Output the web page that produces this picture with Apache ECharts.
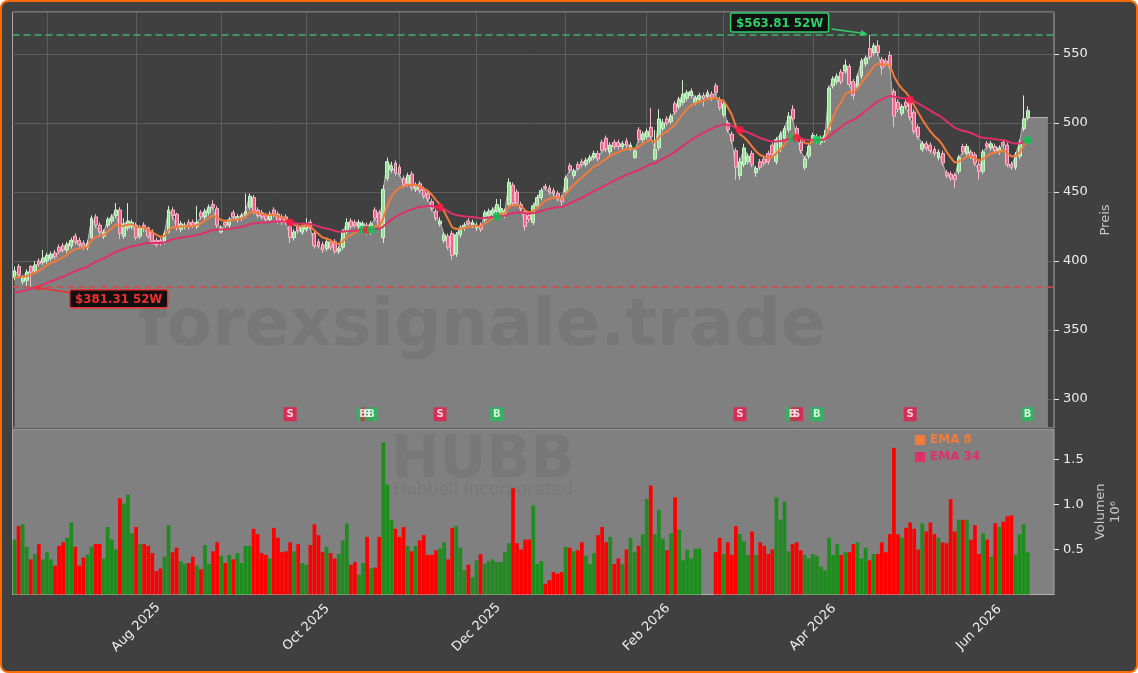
<!DOCTYPE html>
<html>
<head>
<meta charset="utf-8">
<script src="https://cdn.jsdelivr.net/npm/echarts@6/dist/echarts.min.js"></script>
<style>
  html, body { margin: 0; padding: 0; background: #ffffff; }
  #frame { position: absolute; left: 0; top: 0; width: 1138px; height: 673px; box-sizing: border-box;
           border: 2px solid #ff6a00; border-radius: 8px; background: #404040; }
  #chart { position: absolute; left: 0; top: 0; width: 1138px; height: 673px; }
</style>
</head>
<body>
<div id="frame"></div>
<div id="chart"></div>
<script>
const startDate = "2025-06-18";
const holidays = ["2025-06-19", "2025-07-04", "2025-09-01", "2025-11-27", "2025-12-25",
  "2026-01-01", "2026-01-19", "2026-02-16", "2026-04-03", "2026-05-25", "2026-06-19"];
const padSlots = 6; // leerer Rand rechts

const opens = [
  388, 396, 385, 386, 396, 393, 400, 399, 400, 402,
  406, 410, 411, 408, 411, 418, 415, 413, 410, 417,
  432, 426, 418, 426, 429, 433, 437, 418, 424, 425,
  426, 418, 426, 424, 421, 415, 415, 414, 421, 437,
  434, 423, 425, 428, 428, 425, 435, 432, 435, 441,
  438, 421, 428, 426, 435, 430, 431, 433, 439, 446,
  437, 435, 433, 430, 437, 434, 432, 432, 425, 417,
  425, 421, 423, 428, 420, 414, 412, 409, 414, 414,
  407, 410, 421, 429, 428, 425, 426, 426, 421, 437,
  435, 417, 460, 466, 471, 468, 460, 456, 463, 452,
  456, 452, 449, 443, 436, 427, 415, 418, 420, 405,
  419, 424, 429, 426, 424, 426, 430, 433, 434, 436,
  434, 433, 441, 455, 450, 441, 436, 433, 428, 440,
  446, 454, 453, 451, 449, 446, 450, 469, 462, 470,
  472, 470, 473, 475, 478, 486, 489, 479, 486, 486,
  483, 487, 482, 475, 495, 488, 490, 497, 474, 482,
  496, 503, 501, 514, 512, 515, 518, 520, 515, 517,
  520, 519, 521, 527, 517, 506, 500, 492, 480, 462,
  470, 472, 478, 464, 472, 474, 478, 484, 472, 481,
  489, 495, 510, 496, 486, 468, 476, 488, 487, 486,
  488, 495, 527, 530, 537, 538, 541, 530, 526, 534,
  543, 554, 551, 556, 546, 545, 549, 523, 515, 507,
  515, 516, 508, 497, 481, 485, 484, 481, 475, 478,
  464, 463, 462, 465, 483, 478, 479, 477, 470, 465,
  485, 482, 483, 479, 486, 484, 470, 468, 476, 496,
  504
];
const closes = [
  393, 390, 388, 392, 392, 397, 398, 402, 404, 405,
  403, 407, 408, 412, 415, 414, 412, 410, 413, 431,
  426, 421, 421, 430, 432, 437, 420, 427, 429, 428,
  417, 424, 424, 418, 414, 412, 413, 420, 437, 433,
  424, 427, 426, 425, 426, 428, 432, 436, 439, 439,
  426, 424, 426, 430, 432, 432, 433, 436, 447, 436,
  433, 432, 430, 434, 434, 429, 428, 428, 417, 421,
  422, 425, 427, 424, 411, 411, 408, 414, 410, 407,
  409, 421, 428, 425, 426, 428, 427, 421, 427, 431,
  425, 452, 472, 469, 464, 463, 455, 462, 453, 455,
  451, 447, 445, 438, 431, 429, 419, 410, 404, 419,
  424, 426, 427, 428, 426, 423, 435, 436, 437, 441,
  438, 436, 457, 442, 442, 438, 425, 430, 440, 446,
  451, 453, 450, 449, 445, 443, 460, 466, 465, 467,
  470, 473, 475, 478, 474, 480, 481, 484, 483, 483,
  485, 484, 484, 480, 488, 492, 494, 490, 481, 503,
  500, 500, 505, 508, 517, 521, 522, 523, 518, 520,
  518, 522, 518, 522, 511, 514, 495, 487, 468, 472,
  482, 476, 470, 467, 468, 471, 472, 477, 488, 492,
  496, 505, 503, 489, 480, 474, 483, 491, 490, 489,
  491, 525, 532, 534, 530, 542, 528, 520, 534, 545,
  547, 548, 556, 551, 540, 543, 541, 505, 510, 512,
  512, 504, 494, 490, 485, 482, 480, 478, 479, 471,
  462, 460, 459, 475, 479, 483, 476, 471, 465, 479,
  483, 485, 480, 482, 484, 470, 468, 477, 486, 503,
  509
];
const highs = [
  396, 398, 390, 394, 397, 400, 402, 408, 406, 407,
  408, 412, 413, 414, 417, 420, 417, 415, 415, 433,
  434, 428, 423, 432, 434, 442, 439, 431, 442, 430,
  428, 426, 428, 425, 423, 417, 417, 422, 440, 439,
  435, 429, 428, 430, 430, 440, 437, 438, 441, 444,
  440, 426, 430, 432, 437, 434, 435, 449, 449, 448,
  439, 437, 435, 436, 439, 436, 434, 434, 427, 423,
  427, 427, 431, 430, 422, 416, 414, 416, 416, 416,
  411, 423, 431, 431, 430, 430, 429, 428, 429, 439,
  437, 455, 475, 472, 473, 470, 462, 464, 465, 457,
  458, 454, 451, 445, 438, 432, 421, 420, 422, 421,
  426, 428, 431, 430, 428, 428, 437, 438, 439, 445,
  445, 438, 460, 457, 452, 443, 438, 435, 442, 448,
  453, 456, 455, 453, 451, 448, 462, 471, 467, 472,
  474, 475, 477, 480, 480, 488, 491, 486, 488, 488,
  487, 489, 486, 482, 497, 494, 496, 511, 495, 510,
  503, 505, 507, 516, 519, 531, 524, 525, 520, 522,
  522, 524, 523, 529, 519, 516, 502, 494, 482, 475,
  485, 478, 480, 469, 474, 476, 480, 486, 490, 494,
  498, 508, 513, 498, 488, 476, 485, 493, 492, 491,
  495, 527, 534, 536, 539, 546, 543, 532, 536, 547,
  549, 563.81, 558, 560, 548, 547, 552, 525, 517, 514,
  517, 518, 510, 499, 487, 487, 486, 483, 481, 480,
  466, 465, 464, 477, 485, 485, 481, 479, 472, 481,
  487, 487, 485, 484, 488, 486, 472, 479, 488, 520,
  512
];
const lows = [
  386, 388, 383, 382, 381.31, 392, 396, 397, 398, 400,
  401, 405, 406, 406, 409, 412, 410, 408, 408, 416,
  424, 419, 416, 424, 427, 431, 416, 416, 422, 423,
  415, 416, 421, 416, 412, 410, 411, 412, 420, 430,
  422, 421, 423, 423, 424, 423, 430, 430, 433, 437,
  424, 420, 424, 424, 430, 428, 429, 431, 437, 434,
  431, 430, 428, 428, 432, 427, 426, 426, 413, 415,
  420, 419, 421, 422, 409, 409, 406, 407, 408, 405,
  405, 408, 419, 423, 424, 423, 424, 419, 419, 429,
  423, 413, 458, 464, 462, 461, 453, 454, 451, 450,
  449, 445, 443, 436, 429, 425, 413, 408, 401, 403,
  417, 422, 425, 424, 422, 421, 428, 431, 432, 434,
  432, 431, 439, 440, 440, 436, 422, 428, 426, 438,
  444, 451, 448, 447, 443, 440, 448, 464, 460, 465,
  468, 468, 471, 473, 472, 478, 479, 477, 481, 481,
  481, 482, 480, 474, 486, 486, 488, 488, 473, 480,
  494, 498, 499, 506, 510, 513, 516, 518, 513, 515,
  512, 517, 516, 520, 509, 504, 493, 485, 459, 459,
  468, 470, 468, 461, 466, 469, 470, 475, 470, 479,
  487, 493, 501, 487, 478, 466, 474, 486, 485, 484,
  486, 493, 525, 528, 528, 536, 526, 517, 524, 532,
  541, 546, 549, 549, 535, 541, 539, 497, 508, 505,
  510, 502, 492, 488, 479, 480, 478, 476, 473, 469,
  460, 458, 453, 463, 477, 476, 474, 469, 459, 463,
  481, 480, 478, 477, 482, 468, 466, 466, 474, 494,
  502
];
// Volumen in Mio. Stueck (null = kein Wert)
const volumes = [
  0.61, 0.76, 0.78, 0.53, 0.39, 0.45, 0.56, 0.39, 0.47, 0.39,
  0.32, 0.54, 0.58, 0.63, 0.80, 0.53, 0.32, 0.41, 0.44, 0.53,
  0.56, 0.56, 0.40, 0.75, 0.61, 0.50, 1.07, 1.01, 1.11, 0.68,
  0.75, 0.56, 0.56, 0.54, 0.46, 0.26, 0.29, 0.42, 0.77, 0.47,
  0.52, 0.37, 0.34, 0.35, 0.42, 0.32, 0.28, 0.55, 0.34, 0.48,
  0.58, 0.43, 0.35, 0.44, 0.39, 0.46, 0.35, 0.54, 0.54, 0.73,
  0.67, 0.46, 0.44, 0.40, 0.74, 0.63, 0.47, 0.48, 0.58, 0.48,
  0.56, 0.35, 0.33, 0.55, 0.78, 0.66, 0.47, 0.53, 0.46, 0.40,
  0.45, 0.60, 0.79, 0.33, 0.36, 0.22, 0.35, 0.64, 0.29, 0.30,
  0.64, 1.69, 1.22, 0.83, 0.73, 0.64, 0.75, 0.54, 0.48, 0.54,
  0.60, 0.66, 0.44, 0.44, 0.49, 0.51, 0.58, 0.39, 0.74, 0.76,
  0.52, 0.27, 0.33, 0.19, 0.38, 0.45, 0.34, 0.37, 0.39, 0.36,
  0.36, 0.47, 0.57, 1.18, 0.57, 0.50, 0.61, 0.61, 0.99, 0.34,
  0.37, 0.12, 0.16, 0.25, 0.23, 0.25, 0.53, 0.52, 0.48, 0.49,
  0.58, 0.43, 0.34, 0.46, 0.66, 0.75, 0.58, 0.64, 0.34, 0.40,
  0.34, 0.50, 0.63, 0.47, 0.54, 0.67, 1.06, 1.21, 0.67, 0.94,
  0.62, 0.49, 0.68, 1.08, 0.72, 0.38, 0.50, 0.40, 0.51, 0.51,
  null, null, null, 0.47, 0.63, 0.45, 0.58, 0.44, 0.76, 0.67,
  0.59, 0.44, 0.70, 0.44, 0.58, 0.54, 0.45, 0.50, 1.08, 0.83,
  1.03, 0.48, 0.56, 0.58, 0.49, 0.44, 0.40, 0.45, 0.43, 0.31,
  0.27, 0.63, 0.44, 0.56, 0.44, 0.47, 0.47, 0.56, 0.58, 0.40,
  0.52, 0.38, 0.45, 0.45, 0.58, 0.47, 0.67, 1.63, 0.67, 0.63,
  0.74, 0.80, 0.73, 0.50, 0.79, 0.70, 0.80, 0.67, 0.63, 0.58,
  0.57, 1.06, 0.70, 0.83, 0.83, 0.83, 0.61, 0.77, 0.45, 0.68,
  0.61, 0.42, 0.79, 0.75, 0.81, 0.87, 0.88, 0.44, 0.67, 0.78,
  0.47
];
// Flaeche ab dem letzten Tag (rechter Rand)
const areaTail = [504, 504, 504, 504, 504, 504];

// Kreuzungssignale EMA 8 / EMA 34
const sigIdx = [68, 86, 87, 88, 105, 119, 179, 192, 193, 198, 221, 250];
const sigType = ["S", "B", "S", "B", "S", "B", "S", "B", "S", "B", "S", "B"];
const sigLevel = 289; // Hoehe der S/B-Marken

const high52 = 563.81;
const low52 = 381.31;
const emaSeed8 = 388;
const emaSeed34 = 377;
const monthNames = ["Jan", "Feb", "Mar", "Apr", "May", "Jun", "Jul", "Aug", "Sep", "Oct", "Nov", "Dec"];

// Handelstage
function tradingDays(start, n) {
  let out = [];
  let d = new Date(start + "T12:00:00Z");
  while (out.length < n) {
    let s = d.toISOString().slice(0, 10);
    let wd = d.getUTCDay();
    if (wd !== 0 && wd !== 6 && holidays.indexOf(s) < 0) out.push(s);
    d.setUTCDate(d.getUTCDate() + 1);
  }
  return out;
}
const dates = tradingDays(startDate, closes.length + padSlots);
const monthStart = dates.map((s, i) => i > 0 && s.slice(5, 7) !== dates[i - 1].slice(5, 7));

function ema(vals, n, seed) {
  let k = 2 / (n + 1);
  let e = seed;
  return vals.map((v, i) => {
    if (i > 0) e = v * k + e * (1 - k);
    return +e.toFixed(2);
  });
}
const ema8 = ema(closes, 8, emaSeed8);
const ema34 = ema(closes, 34, emaSeed34);

const font = "DejaVu Sans";
const upColor = "#1e8c1e";
const downColor = "#ff0000";

let chart = echarts.init(document.getElementById("chart"));

let option = {
  animation: false,
  textStyle: { fontFamily: font },
  grid: [
    { left: 12.5, top: 12, width: 1041.5, height: 416, show: true,
      backgroundColor: "transparent", borderColor: "#a8a8a8", borderWidth: 1 },
    { left: 12.5, top: 429, width: 1041.5, height: 165.5, show: true,
      backgroundColor: "#808080", borderColor: "#a8a8a8", borderWidth: 1 }
  ],
  legend: {
    left: 910, top: 429, orient: "vertical", itemGap: 5, itemWidth: 10, itemHeight: 10,
    icon: "rect", selectedMode: false,
    textStyle: { fontWeight: "bold", fontSize: 12, fontFamily: font },
    data: [
      { name: "EMA 8", textStyle: { color: "#f27a3a" } },
      { name: "EMA 34", textStyle: { color: "#e0306a" } }
    ]
  },
  xAxis: [
    {
      type: "category", gridIndex: 0, data: dates,
      axisLine: { show: false }, axisTick: { show: false }, axisLabel: { show: false },
      splitLine: { show: true, alignWithLabel: true, interval: (i) => monthStart[i],
        lineStyle: { color: "#5e5e5e", width: 1 } }
    },
    {
      type: "category", gridIndex: 1, data: dates,
      axisLine: { lineStyle: { color: "#b0b0b0" } },
      axisTick: { alignWithLabel: true, interval: (i) => monthStart[i], length: 5,
        lineStyle: { color: "#e6e6e6" } },
      axisLabel: {
        interval: (i) => monthStart[i] && (+dates[i].slice(5, 7)) % 2 === 0,
        rotate: 45, align: "center", verticalAlign: "middle", margin: 33,
        color: "#eeeeee", fontSize: 13,
        formatter: (v) => monthNames[+v.slice(5, 7) - 1] + " " + v.slice(0, 4)
      },
      splitLine: { show: false }
    }
  ],
  yAxis: [
    {
      type: "value", gridIndex: 0, position: "right", min: 279, max: 580.5, splitNumber: 6,
      name: "Preis", nameLocation: "middle", nameGap: 39, nameRotate: 90,
      nameTextStyle: { color: "#c8c8c8", fontSize: 13 },
      axisLine: { show: false },
      axisTick: { show: true, length: 5, lineStyle: { color: "#e6e6e6" } },
      axisLabel: { color: "#eeeeee", fontSize: 13, margin: 9, showMinLabel: false, showMaxLabel: false },
      splitLine: { lineStyle: { color: "#5e5e5e" } }
    },
    {
      type: "value", gridIndex: 1, position: "right", min: 0, max: 1.839, interval: 0.5,
      name: "Volumen", nameLocation: "middle", nameGap: 33, nameRotate: 90,
      nameTextStyle: { color: "#c8c8c8", fontSize: 13 },
      axisLine: { show: false },
      axisTick: { show: true, length: 5, lineStyle: { color: "#e6e6e6" } },
      axisLabel: { color: "#eeeeee", fontSize: 13, margin: 9, showMinLabel: false, showMaxLabel: false,
        formatter: (v) => v.toFixed(1) },
      splitLine: { show: false }
    }
  ],
  series: [
    {
      name: "Kurs", type: "line", xAxisIndex: 0, yAxisIndex: 0, z: 1, silent: true,
      data: closes.slice(0, closes.length - 1).concat(areaTail),
      symbol: "none",
      lineStyle: { color: "#b8b8b8", width: 1 },
      areaStyle: { color: "#808080", opacity: 1 },
      markLine: {
        symbol: "none", silent: true, label: { show: false },
        data: [
          { yAxis: high52, lineStyle: { color: "#3fb36a", type: [7, 4], width: 1.5 } },
          { yAxis: low52, lineStyle: { color: "#d24b4b", type: [7, 4], width: 1.5 } }
        ]
      }
    },
    {
      name: "HUBB", type: "candlestick", xAxisIndex: 0, yAxisIndex: 0, z: 2, barWidth: 3.4,
      data: closes.map((c, i) => [opens[i], c, lows[i], highs[i]]),
      itemStyle: { color: "#8ee68e", color0: "#f2648a", borderColor: "#d2efd2",
        borderColor0: "#f4bccb", borderWidth: 1 }
    },
    {
      name: "EMA 8", type: "line", xAxisIndex: 0, yAxisIndex: 0, z: 3, data: ema8,
      symbol: "none", color: "#f27a3a", lineStyle: { width: 2 }
    },
    {
      name: "EMA 34", type: "line", xAxisIndex: 0, yAxisIndex: 0, z: 3, data: ema34,
      symbol: "none", color: "#e0306a", lineStyle: { width: 2 }
    },
    {
      name: "Kreuzung", type: "scatter", xAxisIndex: 0, yAxisIndex: 0, z: 4, symbolSize: 8,
      data: sigIdx.map((i, k) => ({
        value: [i, ema34[i]],
        itemStyle: { color: sigType[k] === "B" ? "#00c853" : "#ff1744" }
      }))
    },
    {
      name: "Signal", type: "scatter", xAxisIndex: 0, yAxisIndex: 0, z: 5, symbol: "rect",
      symbolSize: [13, 14],
      data: sigIdx.map((i, k) => ({
        value: [i, sigLevel],
        itemStyle: { color: sigType[k] === "B" ? "#1fbf5a" : "#e8194b" },
        label: { formatter: sigType[k] }
      })),
      label: { show: true, position: "inside", color: "#ffffff", fontWeight: "bold", fontSize: 10 }
    },
    {
      name: "Volumen", type: "bar", xAxisIndex: 1, yAxisIndex: 1, z: 2, barCategoryGap: "8%",
      data: volumes.map((v, i) => v == null ? "-" : {
        value: v,
        itemStyle: { color: closes[i] >= opens[i] ? upColor : downColor }
      })
    }
  ],
  graphic: [
    { type: "text", z: 10, silent: true, x: 482, y: 328,
      style: { text: "forexsignale.trade", fill: "rgba(0,0,0,0.07)", font: "bold 66px 'DejaVu Sans'",
        align: "center", verticalAlign: "middle" } },
    { type: "text", z: 10, silent: true, x: 483, y: 462,
      style: { text: "HUBB", fill: "rgba(0,0,0,0.06)", font: "bold 58px 'DejaVu Sans'",
        align: "center", verticalAlign: "middle" } },
    { type: "text", z: 10, silent: true, x: 483, y: 491,
      style: { text: "Hubbell Incorporated", fill: "rgba(0,0,0,0.06)", font: "17px 'DejaVu Sans'",
        align: "center", verticalAlign: "middle" } },
    { type: "text", z: 10, silent: true, x: 1116, y: 512, rotation: Math.PI / 2,
      style: { text: "10\u2076", fill: "#c8c8c8", font: "13px 'DejaVu Sans'",
        align: "center", verticalAlign: "middle" } }
  ]
};

chart.setOption(option);

// 52W-Hoch / -Tief Beschriftung mit Pfeil
function tag(pt, box, from, text, col) {
  let tip = [pt[0] + (from[0] < 0 ? -2 : 2), pt[1] + (from[1] < 0 ? -1 : 0)];
  let a = [pt[0] + from[0], pt[1] + from[1]];
  let ang = Math.atan2(tip[1] - a[1], tip[0] - a[0]);
  let hl = 7, hw = 3;
  let bx = [tip[0] - hl * Math.cos(ang), tip[1] - hl * Math.sin(ang)];
  return [
    { type: "line", z: 20, silent: true,
      shape: { x1: a[0], y1: a[1], x2: bx[0], y2: bx[1] }, style: { stroke: col, lineWidth: 1.5 } },
    { type: "polygon", z: 20, silent: true,
      shape: { points: [tip,
        [bx[0] + hw * Math.sin(ang), bx[1] - hw * Math.cos(ang)],
        [bx[0] - hw * Math.sin(ang), bx[1] + hw * Math.cos(ang)]] },
      style: { fill: col } },
    { type: "rect", z: 20, silent: true,
      shape: { x: pt[0] + box[0], y: pt[1] + box[1], width: box[2], height: box[3], r: 2 },
      style: { fill: "#101010", stroke: col, lineWidth: 1.5 } },
    { type: "text", z: 21, silent: true, x: pt[0] + box[0] + box[2] / 2, y: pt[1] + box[1] + box[3] / 2 + 1,
      style: { text: text, fill: col, font: "bold 11.8px 'DejaVu Sans'", align: "center", verticalAlign: "middle" } }
  ];
}

let hiIdx = highs.indexOf(Math.max.apply(null, highs));
let loIdx = lows.indexOf(Math.min.apply(null, lows));
let hp = chart.convertToPixel({ xAxisIndex: 0, yAxisIndex: 0 }, [hiIdx, highs[hiIdx]]);
let lp = chart.convertToPixel({ xAxisIndex: 0, yAxisIndex: 0 }, [loIdx, lows[loIdx]]);

chart.setOption({
  graphic: option.graphic.concat(
    tag(hp, [-139, -22, 98, 19], [-38, -6], "$" + high52.toFixed(2) + " 52W", "#2fcf6a"),
    tag(lp, [39, 3, 98, 18], [39, 6], "$" + low52.toFixed(2) + " 52W", "#ee3030")
  )
});
</script>
</body>
</html>
